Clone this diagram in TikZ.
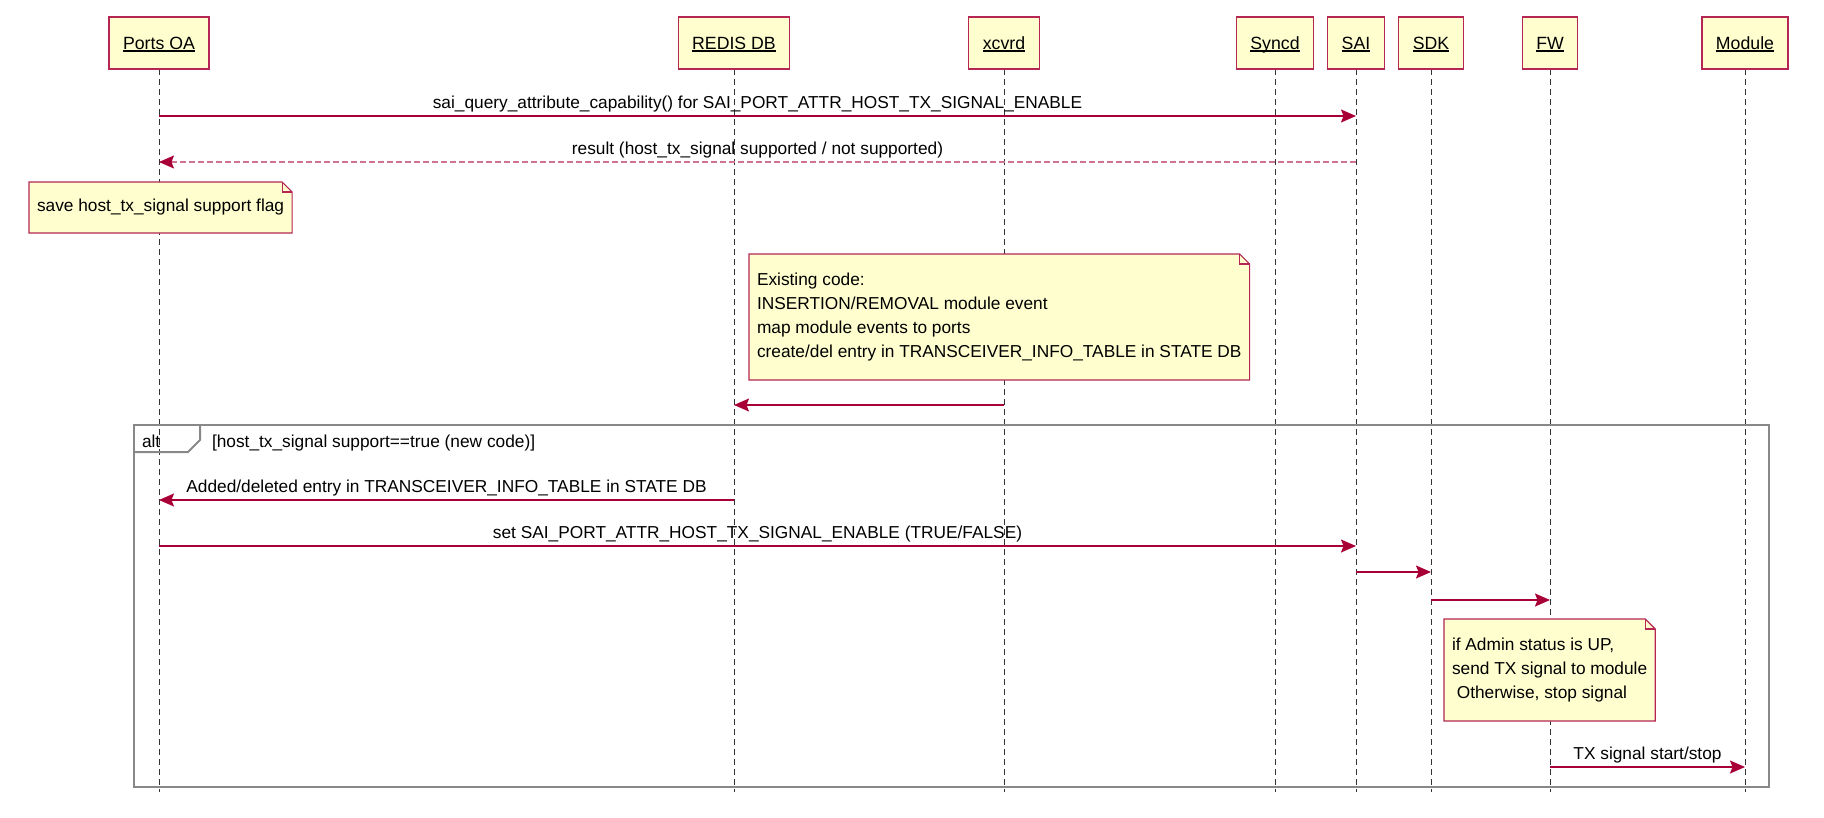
\documentclass[tikz,border=0pt]{standalone}
\usepackage{fontspec}
\setmainfont{Liberation Sans}
\usetikzlibrary{arrows.meta}
\usetikzlibrary{backgrounds}
\definecolor{umlred}{HTML}{A80036}
\definecolor{umlyellow}{HTML}{FEFECE}
\definecolor{framegray}{RGB}{136,136,136}
\pgfdeclarelayer{lifelines}
\pgfsetlayers{lifelines,background,main}
\newcommand{\uname}[1]{\setbox0=\hbox{#1}\rlap{\vrule width\wd0 height -0.8pt depth 2.2pt}\box0}
\tikzset{every node/.style={font=\fontsize{17.3}{24}\selectfont, outer sep=0pt},
         participant/.style={ % Boxes of the actors on top
           draw=umlred!85, fill=umlyellow, line width=1.2pt,
           minimum height=52pt, inner xsep=14pt,
           text height=12.6pt, text depth=0pt,
           font=\fontsize{17.7}{21}\selectfont},
         lifeline/.style={draw=black!80, line width=1pt, dash pattern=on 6pt off 4pt},
         msg/.style={ % Sets the properties for each message
           draw=umlred, line width=1.4pt,
           -{Stealth[length=15pt, width=13pt, inset=2.5pt]}},
         reply/.style={msg, draw=umlred!55, dash pattern=on 6pt off 3pt,
           -{Stealth[length=15pt, width=13pt, inset=2.5pt, color=umlred]}},
         msglabel/.style={anchor=base, inner sep=0pt, yshift=7.5pt},
         note/.style={align=left, anchor=north west, inner xsep=8pt, inner ysep=0pt},
         notebox/.style={draw=umlred!85, fill=umlyellow, line width=1.1pt},
         altframe/.style={draw=framegray, line width=2pt}}

\begin{document}
\begin{tikzpicture}[x=1pt, y=-1pt]
  \useasboundingbox (0,0) rectangle (1824,817);

  % actors
  \node [participant] (poa)    at (159,43)  {\uname{Ports OA}};
  \node [participant] (redis)  at (734,43)  {\uname{REDIS DB}};
  \node [participant] (xcvrd)  at (1004,43) {\uname{xcvrd}};
  \node [participant] (syncd)  at (1275,43) {\uname{Syncd}};
  \node [participant] (sai)    at (1356,43) {\uname{SAI}};
  \node [participant] (sdk)    at (1431,43) {\uname{SDK}};
  \node [participant] (fw)     at (1550,43) {\uname{FW}};
  \node [participant] (module) at (1745,43) {\uname{Module}};

  \coordinate (bottom) at (0,792);
  \begin{pgfonlayer}{lifelines}
    \foreach \p in {poa,redis,xcvrd,syncd,sai,sdk,fw,module}
      \draw [lifeline] (\p.south) -- (\p.south |- bottom);
  \end{pgfonlayer}

  % capability query
  \draw (poa |- 0,116) edge [msg] node [msglabel] (l-query)
    {sai\_query\_attribute\_capability() for SAI\_PORT\_ATTR\_HOST\_TX\_SIGNAL\_ENABLE} (sai |- 0,116);

  \draw (sai |- 0,162) edge [reply] node [msglabel] (l-result)
    {result (host\_tx\_signal supported / not supported)} (poa |- 0,162);

  \node [note, minimum height=51pt] (n-save) at (29,182) {save host\_tx\_signal support flag};

  % existing code
  \node [note, minimum height=126pt] (n-exist) at (749,254) {
    Existing code:\\
    INSERTION/REMOVAL module event\\
    map module events to ports\\
    create/del entry in TRANSCEIVER\_INFO\_TABLE in STATE DB
  };

  \draw (xcvrd |- 0,405) edge [msg] (redis |- 0,405);

  % alt block
  \coordinate (alt-nw) at (134,425);
  \coordinate (alt-se) at (1769,787);
  \draw [altframe] (alt-nw) rectangle (alt-se);
  \draw [altframe] (alt-nw |- 0,452) -- (188,452) -- (200,440) -- (200,425);
  \node [anchor=base west, inner sep=0pt] (alt-kw) at (142,447) {alt};
  \node [anchor=base west, inner sep=0pt] (alt-cond) at (212,447) {[host\_tx\_signal support==true (new code)]};

  \draw (redis |- 0,500) edge [msg] node [msglabel] (l-added)
    {Added/deleted entry in TRANSCEIVER\_INFO\_TABLE in STATE DB} (poa |- 0,500);

  \draw (poa |- 0,546) edge [msg] node [msglabel] (l-set)
    {set SAI\_PORT\_ATTR\_HOST\_TX\_SIGNAL\_ENABLE (TRUE/FALSE)} (sai |- 0,546);

  \draw (sai |- 0,572) edge [msg] (sdk |- 0,572);
  \draw (sdk |- 0,600) edge [msg] (fw |- 0,600);

  \node [note, minimum height=102pt] (n-admin) at (1444,619) {
    if Admin status is UP,\\
    send TX signal to module\\
    \mbox{ }Otherwise, stop signal
  };

  \draw (fw |- 0,767) edge [msg] node [msglabel] (l-tx) {TX signal start/stop} (module |- 0,767);

  % note outlines with folded corner
  \begin{scope}[on background layer]
    \foreach \n in {n-save,n-exist,n-admin} {
      \draw [notebox] (\n.south west) -- (\n.north west) -- ([xshift=-10pt]\n.north east)
        -- ([yshift=-10pt]\n.north east) -- (\n.south east) -- cycle;
      \draw [notebox, fill=none] ([xshift=-10pt]\n.north east) |- ([yshift=-10pt]\n.north east);
    }
  \end{scope}

\end{tikzpicture}
\end{document}
